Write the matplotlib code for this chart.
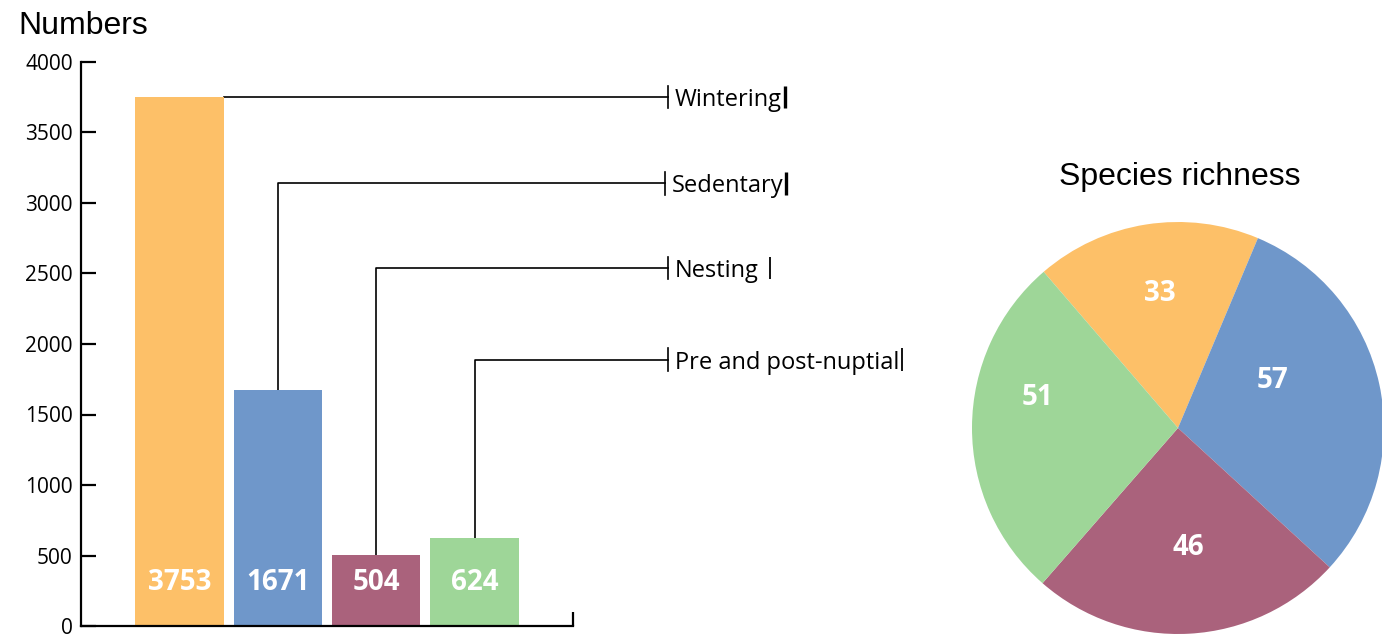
import matplotlib
matplotlib.use("Agg")
import matplotlib.pyplot as plt

# Data
categories = ["Wintering", "Sedentary", "Nesting", "Pre and post-nuptial"]
numbers = [3753, 1671, 504, 624]
yticks = [0, 500, 1000, 1500, 2000, 2500, 3000, 3500, 4000]
richness = [33, 57, 46, 51]

colors = ["#FDC068", "#6F97CA", "#AA627C", "#9ED698"]

# Layout of the leader lines (data coords of the bar axes)
leader_y = [3753, 3140, 2540, 1890]
leader_end = [4.965, 4.935, 4.965, 4.965]
label_gap = [0.0, 0.0, 0.08, 0.0]
label_bar_lw = [2.4, 2.4, 1.3, 1.3]
# Pie label positions (in units of the pie radius)
pie_label_pos = [(-0.087, 0.655), (0.46, 0.233), (0.049, -0.578), (-0.68, 0.146)]

sans = "Open Sans"
W, H = 1382, 634
fig = plt.figure(figsize=(W / 100, H / 100), dpi=100)

# ---- Bar chart ----
ax = fig.add_axes([81 / W, (H - 626) / H, (573 - 81) / W, (626 - 62) / H])
x = list(range(len(numbers)))
ax.bar(x, numbers, width=0.9, color=colors, zorder=2)
ax.set_xlim(-1, 4)
ax.set_ylim(0, 4000)
ax.set_yticks(yticks)
ax.set_yticklabels([str(v) for v in yticks], fontfamily=sans, fontsize=15)
ax.tick_params(axis="y", direction="in", length=11, width=1.6, pad=6)
ax.set_xticks([])
for s in ["top", "right"]:
    ax.spines[s].set_visible(False)
ax.spines["left"].set_linewidth(1.6)
ax.spines["bottom"].set_linewidth(1.6)
ax.plot([4, 4], [0, 100], color="black", lw=1.6, clip_on=False, solid_capstyle="butt")

for xi, v in zip(x, numbers):
    ax.text(xi, 310, str(v), ha="center", va="center", color="white",
            fontfamily=sans, fontweight="bold", fontsize=20, zorder=3)

fig.text(18 / W, 1 - 26 / H, "Numbers", ha="left", va="center",
         fontfamily="Liberation Sans", fontsize=23)

# Leader lines with labels
tick_half = 80
renderer = fig.canvas.get_renderer()
for i, (cat, v, ly) in enumerate(zip(categories, numbers, leader_y)):
    if i == 0:
        xs = [0.45, leader_end[i]]
        ys = [ly, ly]
    else:
        xs = [i, i, leader_end[i]]
        ys = [v, ly, ly]
    ax.plot(xs, ys, color="black", lw=1.2, clip_on=False, zorder=1)
    ax.plot([leader_end[i]] * 2, [ly - tick_half, ly + tick_half],
            color="black", lw=1.2, clip_on=False)
    t = ax.text(leader_end[i] + 0.07, ly - 22, cat, ha="left", va="center",
                fontfamily=sans, fontsize=17, clip_on=False)
    bb = t.get_window_extent(renderer=renderer)
    xr = ax.transData.inverted().transform((bb.x1, 0))[0] + 0.03 + label_gap[i]
    ax.plot([xr, xr], [ly - tick_half, ly + tick_half], color="black",
            lw=label_bar_lw[i], clip_on=False, solid_capstyle="butt")

# ---- Pie chart ----
pax = fig.add_axes([972 / W, 0.0, 412 / W, 412 / H])
pax.pie(richness, colors=colors, startangle=130.7, counterclock=False,
        radius=1, wedgeprops=dict(linewidth=0))
pax.set_xlim(-1, 1)
pax.set_ylim(-1, 1)
pax.set_aspect("equal")
pax.axis("off")
for v, (px, py) in zip(richness, pie_label_pos):
    pax.text(px, py, str(v), ha="center", va="center", color="white",
             fontfamily=sans, fontweight="bold", fontsize=20)
fig.text(1180 / W, 1 - 177 / H, "Species richness", ha="center", va="center",
         fontfamily="Liberation Sans", fontsize=23)

fig.savefig("out.png", dpi=100)
